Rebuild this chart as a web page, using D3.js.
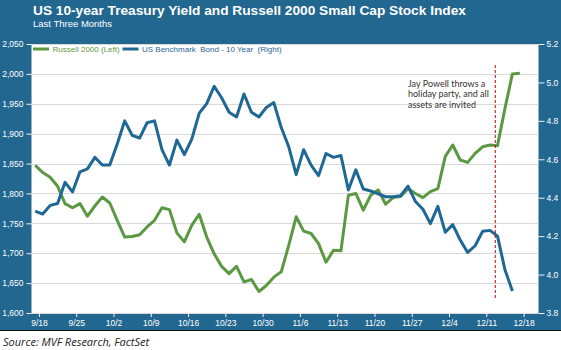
<!DOCTYPE html>
<html>
<head>
<meta charset="utf-8">
<script src="https://cdn.jsdelivr.net/npm/d3@7"></script>
<style>
  body { margin: 0; background: #fff; }
  svg { display: block; }
</style>
</head>
<body>
<div id="container"></div>
<script>
/* CONSTANTS AND GLOBALS */
const width = 561;
const height = 350;

// plot box (white area)
const plot = { left: 31.5, right: 538.5, top: 44, bottom: 313 };

/* DATA */
// trading days (weekdays), holidays kept as repeated rows
const dates = ["9/15", "9/18", "9/19", "9/20", "9/21", "9/22", "9/25", "9/26", "9/27", "9/28", "9/29",
  "10/2", "10/3", "10/4", "10/5", "10/6", "10/9", "10/10", "10/11", "10/12", "10/13",
  "10/16", "10/17", "10/18", "10/19", "10/20", "10/23", "10/24", "10/25", "10/26", "10/27",
  "10/30", "10/31", "11/1", "11/2", "11/3", "11/6", "11/7", "11/8", "11/9", "11/10",
  "11/13", "11/14", "11/15", "11/16", "11/17", "11/20", "11/21", "11/22", "11/23", "11/24",
  "11/27", "11/28", "11/29", "11/30", "12/1", "12/4", "12/5", "12/6", "12/7", "12/8",
  "12/11", "12/12", "12/13", "12/14", "12/15"];

const russell = [1847, 1835, 1827, 1812, 1783, 1776, 1783, 1762, 1779, 1794, 1784,
  1755, 1727, 1728, 1731, 1744, 1755, 1776, 1773, 1734, 1719,
  1747, 1765, 1727, 1699, 1678, 1666, 1678, 1652, 1656, 1636,
  1646, 1660, 1669, 1713, 1761, 1737, 1733, 1716, 1685, 1705,
  1704, 1797, 1800, 1772, 1797, 1806, 1782, 1793, 1795, 1808,
  1800, 1793, 1803, 1808, 1862, 1881, 1856, 1852, 1867, 1878,
  1881, 1880, 1942, 2000, 2001];

const bond10 = [4.33, 4.315, 4.36, 4.37, 4.48, 4.43, 4.535, 4.55, 4.61, 4.57, 4.57,
  4.68, 4.80, 4.725, 4.71, 4.79, 4.80, 4.65, 4.57, 4.70, 4.625,
  4.705, 4.84, 4.89, 4.98, 4.92, 4.845, 4.82, 4.94, 4.845, 4.82,
  4.87, 4.895, 4.765, 4.665, 4.52, 4.65, 4.57, 4.515, 4.63, 4.61,
  4.62, 4.44, 4.545, 4.445, 4.435, 4.42, 4.405, 4.405, 4.41, 4.46,
  4.38, 4.34, 4.265, 4.355, 4.22, 4.26, 4.18, 4.115, 4.15, 4.225,
  4.23, 4.20, 4.025, 3.915];

const tickLabels = ["9/18", "9/25", "10/2", "10/9", "10/16", "10/23", "10/30",
  "11/6", "11/13", "11/20", "11/27", "12/4", "12/11", "12/18"];
const leftTicks = [1600, 1650, 1700, 1750, 1800, 1850, 1900, 1950, 2000, 2050];
const rightTicks = [3.8, 4.0, 4.2, 4.4, 4.6, 4.8, 5.0, 5.2];

const noteLines = ["Jay Powell throws a", "holiday party, and all", "assets are invited"];
const noteDate = "12/12";

const bgBlue = "#22678f";
const green = "#5a9941";
const blue = "#1f6795";

/* HTML ELEMENTS */
const svg = d3.select("#container")
  .append("svg")
  .attr("width", width)
  .attr("height", height)
  .style("font-family", "'Liberation Sans', Arial, sans-serif")

// blue frame
svg.append("rect")
  .attr("width", width)
  .attr("height", 330)
  .attr("fill", bgBlue)

svg.append("line")
  .attr("x1", 0).attr("x2", width)
  .attr("y1", 330.5).attr("y2", 330.5)
  .attr("stroke", "#111")

// white plot area
svg.append("rect")
  .attr("x", plot.left)
  .attr("y", plot.top)
  .attr("width", plot.right - plot.left)
  .attr("height", plot.bottom - plot.top)
  .attr("fill", "#fff")

// titles
svg.append("text")
  .attr("x", 33)
  .attr("y", 15)
  .attr("fill", "#fff")
  .style("font-size", "13.7px")
  .style("font-weight", "bold")
  .text("US 10-year Treasury Yield and Russell 2000 Small Cap Stock Index")

svg.append("text")
  .attr("x", 33)
  .attr("y", 27)
  .attr("fill", "#fff")
  .style("font-size", "9.5px")
  .text("Last Three Months")

/* SCALES */
const xScale = d3.scaleLinear()
  .domain([-0.5, 67.5])
  .range([plot.left, plot.right])

const yLeft = d3.scaleLinear()
  .domain([1600, 2050])
  .range([plot.bottom, plot.top])

const yRight = d3.scaleLinear()
  .domain([3.8, 5.2])
  .range([plot.bottom, plot.top])

// gridlines
svg.append("g")
  .selectAll("line")
  .data(leftTicks)
  .join("line")
  .attr("x1", plot.left)
  .attr("x2", plot.right)
  .attr("y1", d => Math.round(yLeft(d)) + 0.5)
  .attr("y2", d => Math.round(yLeft(d)) + 0.5)
  .attr("stroke", "#d9d9d9")

/* AXES */
const axisLeft = d3.axisLeft(yLeft)
  .tickValues(leftTicks)
  .tickFormat(d3.format(","))
  .tickSize(5)
  .tickPadding(3)

const gL = svg.append("g")
  .attr("transform", `translate(${plot.left},0)`)
  .call(axisLeft)

const axisRight = d3.axisRight(yRight)
  .tickValues(rightTicks)
  .tickFormat(d3.format(".1f"))
  .tickSize(6)
  .tickPadding(2)

const gR = svg.append("g")
  .attr("transform", `translate(${plot.right},0)`)
  .call(axisRight)

// ticks sit half a day before each monday
const tickPos = tickLabels.map((d, i) => i * 5 + 0.5)
const axisBottom = d3.axisBottom(xScale)
  .tickValues(tickPos)
  .tickFormat((d, i) => tickLabels[i])
  .tickSize(4)
  .tickPadding(3)

const gB = svg.append("g")
  .attr("transform", `translate(0,${plot.bottom})`)
  .call(axisBottom)

;[gL, gR, gB].forEach(g => {
  g.select(".domain").remove()
  g.selectAll(".tick line").attr("stroke", "#f2f2f2")
  g.selectAll(".tick text")
    .attr("fill", "#fff")
    .style("font-size", "8.5px")
    .style("font-family", "'Liberation Sans', Arial, sans-serif")
})

/* LINES */
const lineL = d3.line()
  .x((d, i) => xScale(i))
  .y(d => yLeft(d))

const lineR = d3.line()
  .x((d, i) => xScale(i))
  .y(d => yRight(d))

svg.append("path")
  .datum(russell)
  .attr("d", lineL)
  .attr("fill", "none")
  .attr("stroke", green)
  .attr("stroke-width", 3)
  .attr("stroke-linejoin", "round")

svg.append("path")
  .datum(bond10)
  .attr("d", lineR)
  .attr("fill", "none")
  .attr("stroke", blue)
  .attr("stroke-width", 3)
  .attr("stroke-linejoin", "round")

/* ANNOTATION */
const noteX = xScale(dates.indexOf(noteDate) - 0.3)
svg.append("line")
  .attr("x1", noteX).attr("x2", noteX)
  .attr("y1", 65).attr("y2", 300)
  .attr("stroke", "#c00000")
  .attr("stroke-width", 1)
  .attr("stroke-dasharray", "3,2")

svg.append("g")
  .selectAll("text")
  .data(noteLines)
  .join("text")
  .attr("x", 408)
  .attr("y", (d, i) => 86.5 + i * 10.8)
  .attr("fill", "#333")
  .style("font-family", "Lato, 'Open Sans', sans-serif")
  .style("font-size", "9px")
  .text(d => d)

/* LEGEND */
const legend = [
  { name: "Russell 2000 (Left)", color: green, x: 33 },
  { name: "US Benchmark  Bond - 10 Year  (Right)", color: blue, x: 122.5 }
]

const lg = svg.append("g")
  .selectAll("g")
  .data(legend)
  .join("g")
  .attr("transform", d => `translate(${d.x},49)`)

lg.append("line")
  .attr("x1", 0).attr("x2", 16)
  .attr("stroke", d => d.color)
  .attr("stroke-width", 3)

lg.append("text")
  .attr("x", 19.5)
  .attr("y", 3)
  .attr("fill", d => d.color)
  .style("font-size", "8px")
  .style("white-space", "pre")
  .text(d => d.name)

/* SOURCE */
svg.append("text")
  .attr("x", 3)
  .attr("y", 345.5)
  .attr("fill", "#222")
  .style("font-family", "'Open Sans', sans-serif")
  .style("font-style", "italic")
  .style("font-size", "11px")
  .text("Source: MVF Research, FactSet")
</script>
</body>
</html>
